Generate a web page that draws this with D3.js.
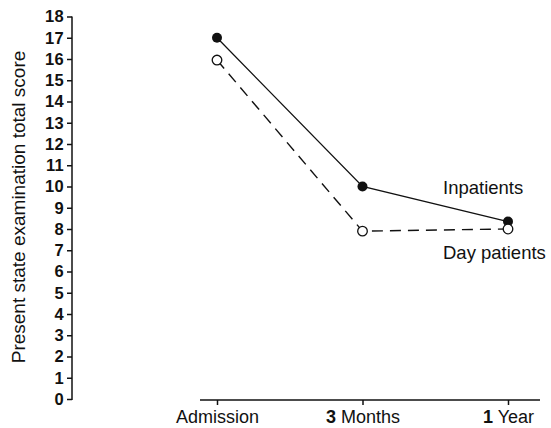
<!DOCTYPE html>
<html><head><meta charset="utf-8">
<script src="https://cdn.jsdelivr.net/npm/d3@7"></script>
<style>body{margin:0;background:#fff}text{font-family:"Liberation Sans",Arial,sans-serif;fill:#111}</style>
</head><body>
<svg id="c" width="551" height="428"></svg>
<script>
const categories = ["Admission", "3 Months", "1 Year"];
const inpatients = [17.0, 10.0, 8.35];
const dayPatients = [15.95, 7.9, 8.0];
const yTicks = d3.range(0, 19);
const seriesNames = ["Inpatients", "Day patients"];

const svg = d3.select("#c");
const y = d3.scaleLinear().domain([0, 18]).range([399, 16.5]);
const x = d3.scalePoint().domain(categories).range([217, 508]);

// y axis
const ya = svg.append("g").attr("transform", "translate(72,0)")
  .call(d3.axisLeft(y).tickValues(yTicks).tickSize(5).tickPadding(3).tickFormat(d3.format("d")));
ya.select(".domain").attr("d", "M0,16.5V400").attr("stroke", "#111").attr("stroke-width", 1.5);
ya.selectAll(".tick line").attr("stroke", "#111").attr("stroke-width", 1.5);
ya.selectAll(".tick text").style("font-size", "16.5px").style("font-weight", "bold")
  .style("letter-spacing", "0.3px").attr("fill", "#111");

// x axis
const xa = svg.append("g").attr("transform", "translate(0,400)")
  .call(d3.axisBottom(x).tickSize(5).tickPadding(5).tickSizeOuter(0));
xa.select(".domain").attr("d", "M200,0H540").attr("stroke", "#111").attr("stroke-width", 1.5);
xa.selectAll(".tick line").attr("stroke", "#111").attr("stroke-width", 1.5);
xa.selectAll(".tick text").style("font-size", "18px").attr("fill", "#111").text(null)
  .each(function(d) {
    const t = d3.select(this);
    const m = d.match(/^(\d+)\s(.*)$/);
    if (m) {
      t.append("tspan").style("font-weight", "bold").text(m[1]);
      t.append("tspan").text(" " + m[2]);
    } else t.text(d);
  });

// y title
svg.append("text").attr("transform", "translate(25,207) rotate(-90)")
  .attr("text-anchor", "middle").style("font-size", "19px")
  .text("Present state examination total score");

const line = d3.line().x((d, i) => x(categories[i])).y(d => y(d));
svg.append("path").datum(inpatients).attr("d", line)
  .attr("fill", "none").attr("stroke", "#111").attr("stroke-width", 1.3);
svg.append("path").datum(dayPatients).attr("d", line)
  .attr("fill", "none").attr("stroke", "#111").attr("stroke-width", 1.4)
  .attr("stroke-dasharray", "11,7");

svg.selectAll(".inp").data(inpatients).enter().append("circle")
  .attr("cx", (d, i) => x(categories[i])).attr("cy", d => y(d)).attr("r", 5)
  .attr("fill", "#111");
svg.selectAll(".day").data(dayPatients).enter().append("circle")
  .attr("cx", (d, i) => x(categories[i])).attr("cy", d => y(d)).attr("r", 4.8)
  .attr("fill", "#fff").attr("stroke", "#111").attr("stroke-width", 1.3);

svg.append("text").attr("x", 443).attr("y", 194).style("font-size", "18.5px").text(seriesNames[0]);
svg.append("text").attr("x", 443).attr("y", 259).style("font-size", "18.5px").text(seriesNames[1]);
</script>
</body></html>
